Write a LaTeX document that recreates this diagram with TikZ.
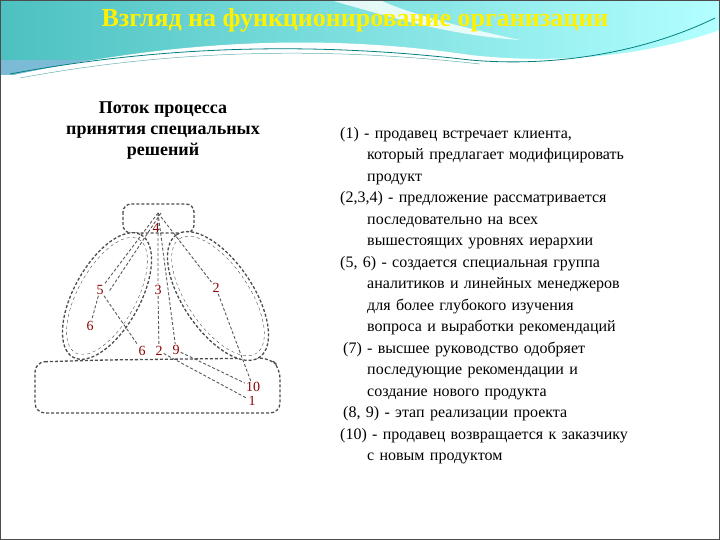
\documentclass[tikz,border=0pt]{standalone}
\usepackage{fontspec}
\setmainfont{Liberation Serif}
\begin{document}
\begin{tikzpicture}[x=1pt,y=-1pt,
  lab/.style={text=red!55!black,font=\fontsize{14}{14}\selectfont,inner sep=1pt},
  dl/.style={densely dashed,gray!70!black,line width=0.9pt},
  shp/.style={densely dashed,gray!60!black,line width=1.3pt,fill=white},
  body/.style={font=\fontsize{16}{21.5}\selectfont,align=left,anchor=north west,text width=370pt,inner sep=0pt}]
\useasboundingbox (0,0) rectangle (720,540);
\fill[white] (0,0) rectangle (720,540);
% header
\fill[cyan!45!teal!60] (0,0) rectangle (720,75);
\shade[left color=cyan!30!teal!70,right color=cyan!30] (0,0) rectangle (720,60);
\fill[white] (0,78) .. controls (150,45) and (300,30) .. (470,55) .. controls (560,65) and (650,55) .. (720,30) -- (720,80) -- (0,80) -- cycle;
\fill[white,opacity=0.8] (330,0) .. controls (400,20) and (450,35) .. (520,40) .. controls (450,25) and (400,10) .. (380,0) -- cycle;
\draw[teal,line width=0.8pt] (10,74) .. controls (150,48) and (300,40) .. (470,60) .. controls (560,68) and (650,50) .. (715,18);
\draw[teal!60,line width=0.5pt] (20,78) .. controls (160,52) and (310,45) .. (480,64);
\draw[gray!60!black,line width=0.6pt] (0.3,0.3) rectangle (719.7,539.7);
\node[text=yellow,font=\bfseries\fontsize{26}{26}\selectfont] (title) at (355,20) {Взгляд на функционирование организации};
% left caption
\node[font=\bfseries\fontsize{18}{21}\selectfont,align=center] (cap) at (163,131) {Поток процесса\\принятия специальных\\решений};
% shapes
\draw[shp,rounded corners=10] (35,362) -- (105,360) -- (270,358) -- (280,368) -- (280,413) -- (35,413) -- cycle;
\draw[shp,rounded corners=8] (123,204) rectangle (194,233);
\draw[shp,rotate around={61:(107,296)}] (107,296) ellipse [x radius=70,y radius=33];
\draw[dashed,gray!60!black,rotate around={61:(107,296)}] (107,296) ellipse [x radius=65,y radius=29];
\draw[shp,rotate around={124:(218,296)}] (218,296) ellipse [x radius=74,y radius=35];
\draw[dashed,gray!60!black,rotate around={124:(218,296)}] (218,296) ellipse [x radius=69,y radius=31];
% labels
\coordinate (top) at (158,213);
\node[lab] (n4) at (156,228) {4};
\node[lab] (n5) at (100,290) {5};
\node[lab] (n6a) at (90,326) {6};
\node[lab] (n3) at (158,290) {3};
\node[lab] (n2a) at (216,288) {2};
\node[lab] (n6b) at (142,351) {6};
\node[lab] (n2b) at (159,351) {2};
\node[lab] (n9) at (176,350) {9};
\node[lab] (n10) at (253,387) {10};
\node[lab] (n1) at (252,401) {1};
% connectors
\draw[dl] (top) -- (n5);
\draw[dl] ([xshift=3pt]top) -- ([xshift=4pt,yshift=-2pt]n5.east);
\draw[dl] (n5) -- (n6a);
\draw[dl] (n5) -- (n6b);
\draw[dl] (top) -- (n3) -- (n2b);
\draw[dl] (top) -- (n9);
\draw[dl] (top) -- (n2a) -- (n10);
\draw[dl] (n9) -- (n10);
\draw[dl] (n2b) -- (n1);
% right text
\node[body] (txt) at (340,127) {(1) - продавец встречает клиента,\\
\hspace*{27pt}который предлагает модифицировать\\
\hspace*{27pt}продукт\\
(2,3,4) - предложение рассматривается\\
\hspace*{27pt}последовательно на всех\\
\hspace*{27pt}вышестоящих уровнях иерархии\\
(5, 6) - создается специальная группа\\
\hspace*{27pt}аналитиков и линейных менеджеров\\
\hspace*{27pt}для более глубокого изучения\\
\hspace*{27pt}вопроса и выработки рекомендаций\\
\hspace*{3pt}(7) - высшее руководство одобряет\\
\hspace*{27pt}последующие рекомендации и\\
\hspace*{27pt}создание нового продукта\\
\hspace*{3pt}(8, 9) - этап реализации проекта\\
(10) - продавец возвращается к заказчику\\
\hspace*{27pt}с новым продуктом};
\end{tikzpicture}
\end{document}
